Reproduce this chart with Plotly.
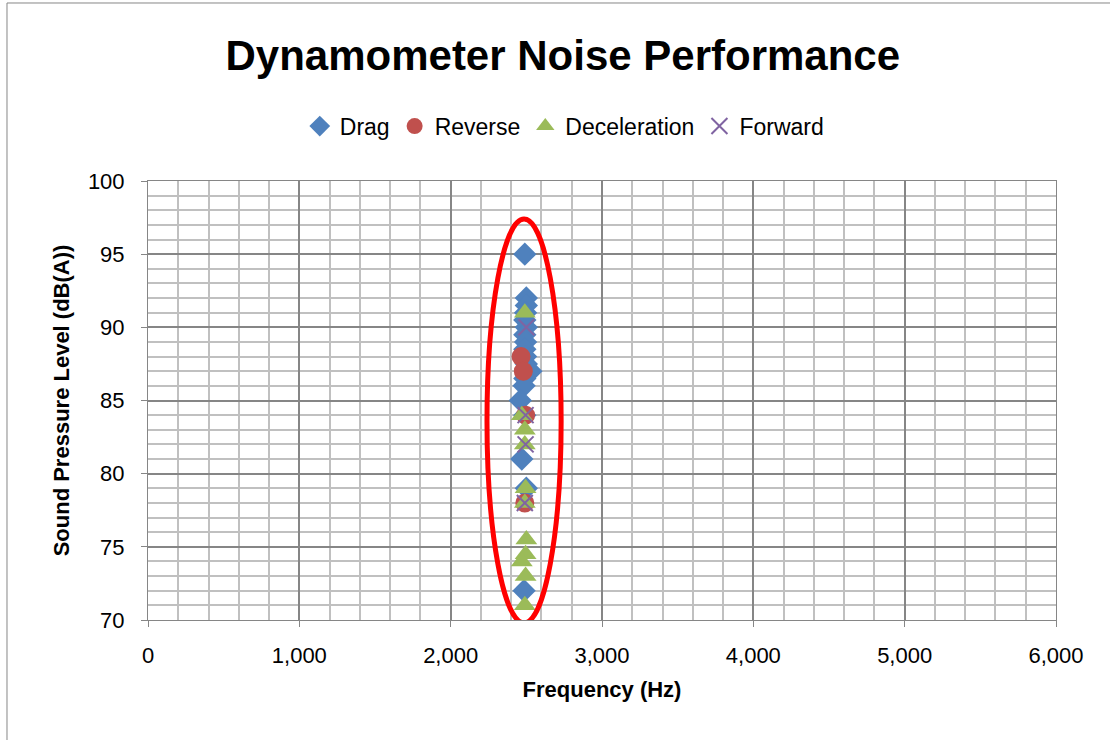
import plotly.graph_objects as go

# Data
drag_freq = [2490, 2500, 2500, 2495, 2490, 2500, 2490, 2495, 2490, 2495, 2500, 2530, 2490, 2485, 2460, 2490, 2470, 2500, 2485]
drag_spl  = [95, 92, 91.5, 91, 90.5, 90, 89.5, 89, 88.5, 88, 87.5, 87, 86.5, 86, 85, 84, 81, 79, 72]

reverse_freq = [2465, 2480, 2495, 2490]
reverse_spl  = [88, 87, 84, 78]

decel_freq = [2490, 2470, 2490, 2490, 2495, 2490, 2500, 2495, 2470, 2495, 2490]
decel_spl  = [91, 84, 83, 82, 79, 78, 75.5, 74.5, 74, 73, 71]

forward_freq = [2500, 2495, 2495, 2490]
forward_spl  = [90, 84, 82, 78]

x_range = [0, 6000]
y_range = [70, 100]

# highlight ellipse bounds (data units)
ellipse_x = [2240, 2730]
ellipse_y = [69.8, 97.4]

FONT = "Liberation Sans"

fig = go.Figure()
fig.add_trace(go.Scatter(x=drag_freq, y=drag_spl, mode="markers", name="Drag",
                         marker=dict(symbol="diamond", size=18, color="#4F81BD",
                                     line=dict(width=0))))
fig.add_trace(go.Scatter(x=reverse_freq, y=reverse_spl, mode="markers", name="Reverse",
                         marker=dict(symbol="circle", size=19, color="#C0504D",
                                     line=dict(width=0))))
fig.add_trace(go.Scatter(x=decel_freq, y=decel_spl, mode="markers", name="Deceleration",
                         marker=dict(symbol="triangle-up", size=19, color="#9BBB59",
                                     line=dict(width=0))))
fig.add_trace(go.Scatter(x=forward_freq, y=forward_spl, mode="markers", name="Forward",
                         marker=dict(symbol="x-thin-open", size=16, color="#8064A2",
                                     line=dict(width=2, color="#8064A2"))))

fig.add_shape(type="circle", xref="x", yref="y",
              x0=ellipse_x[0], x1=ellipse_x[1], y0=ellipse_y[0], y1=ellipse_y[1],
              line=dict(color="#FF0000", width=5), layer="above")

# outer chart border (left and top)
fig.add_shape(type="line", xref="paper", yref="paper", x0=-0.1553, x1=1.07, y0=1.4055, y1=1.4055,
              line=dict(color="#868686", width=1))
fig.add_shape(type="line", xref="paper", yref="paper", x0=-0.1553, x1=-0.1553, y0=1.4055, y1=-0.3,
              line=dict(color="#868686", width=1))

fig.update_layout(
    width=1110, height=740,
    margin=dict(l=148, r=54, t=181, b=120, autoexpand=False),
    paper_bgcolor="white", plot_bgcolor="white",
    font=dict(family=FONT, color="black", size=20),
    title=dict(text="<b>Dynamometer Noise Performance</b>", x=0.507, xanchor="center",
               xref="container", y=0.925, yanchor="middle",
               font=dict(family=FONT, size=42, color="black")),
    legend=dict(orientation="h", x=0.459, xanchor="center", xref="paper",
                y=1.125, yanchor="middle", font=dict(size=23, family=FONT),
                itemwidth=30, tracegroupgap=0),
    showlegend=True,
)

fig.update_xaxes(
    range=x_range, dtick=1000, tickformat=",d",
    showgrid=True, gridcolor="#868686", gridwidth=2,
    minor=dict(dtick=200, showgrid=True, gridcolor="#C0C0C0", gridwidth=2),
    showline=True, linecolor="#868686", linewidth=1, mirror=True,
    ticks="outside", ticklen=6, tickcolor="#868686", ticklabelstandoff=10,
    zeroline=False, tickfont=dict(size=22, family=FONT), tickangle=0,
    title=dict(text="<b>Frequency (Hz)</b>", font=dict(size=22, family=FONT), standoff=14),
)
fig.update_yaxes(
    range=y_range, dtick=5,
    showgrid=True, gridcolor="#868686", gridwidth=2,
    minor=dict(dtick=1, showgrid=True, gridcolor="#C0C0C0", gridwidth=2),
    showline=True, linecolor="#868686", linewidth=1, mirror=True,
    ticks="outside", ticklen=6, tickcolor="#868686", ticklabelstandoff=12,
    zeroline=False, tickfont=dict(size=22, family=FONT),
    title=dict(text="<b>Sound Pressure Level (dB(A))</b>", font=dict(size=22, family=FONT), standoff=12),
)

fig.write_html("out.html")
